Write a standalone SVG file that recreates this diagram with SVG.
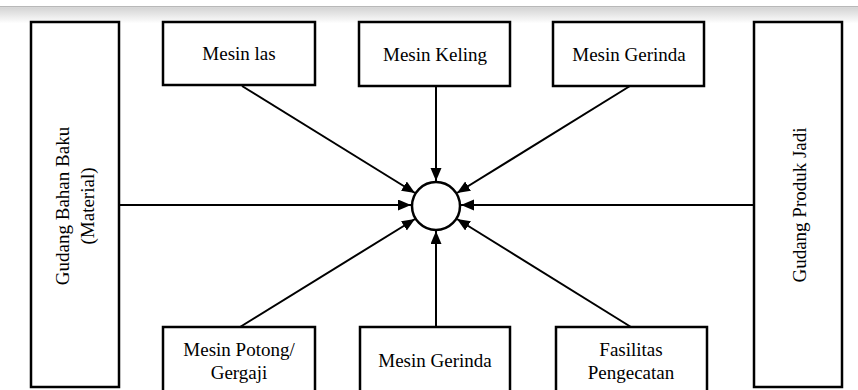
<svg xmlns="http://www.w3.org/2000/svg" width="858" height="390" viewBox="0 0 858 390">
<defs>
<linearGradient id="shade" x1="0" y1="0" x2="0" y2="1">
<stop offset="0" stop-color="#d4d4d4"/>
<stop offset="1" stop-color="#ffffff"/>
</linearGradient>
<marker id="arr" markerUnits="userSpaceOnUse" markerWidth="14" markerHeight="12" refX="13" refY="5.5" orient="auto">
<path d="M0,0 L13,5.5 L0,11 z" fill="#000"/>
</marker>
<style>
.box{fill:#fff;stroke:#000;stroke-width:2.5}
.lbl{font-family:"Liberation Serif","Times New Roman",serif;font-size:19px;fill:#000;text-anchor:middle}
.con{stroke:#000;stroke-width:2;fill:none;marker-end:url(#arr)}
</style>
</defs>
<rect x="0" y="0" width="858" height="390" fill="#fff"/>
<rect x="0" y="6" width="858" height="1.5" fill="#b8b8b8"/>
<rect x="0" y="7.5" width="858" height="16" fill="url(#shade)"/>

<g id="gudang-bahan-baku">
<rect class="box" x="31" y="22" width="88" height="365"/>
<text class="lbl" transform="translate(69,206) rotate(-90)">Gudang Bahan Baku</text>
<text class="lbl" transform="translate(94,206) rotate(-90)">(Material)</text>
</g>
<g id="gudang-produk-jadi">
<rect class="box" x="754" y="22" width="88" height="365"/>
<text class="lbl" transform="translate(806,205) rotate(-90)">Gudang Produk Jadi</text>
</g>
<g id="mesin-las">
<rect class="box" x="163" y="22" width="152" height="63"/>
<text class="lbl" x="239" y="60">Mesin las</text>
</g>
<g id="mesin-keling">
<rect class="box" x="359" y="22" width="151" height="64"/>
<text class="lbl" x="435" y="61">Mesin Keling</text>
</g>
<g id="mesin-gerinda-atas">
<rect class="box" x="553" y="22" width="151" height="64"/>
<text class="lbl" x="629" y="61">Mesin Gerinda</text>
</g>
<g id="mesin-potong">
<rect class="box" x="163" y="327" width="152" height="80"/>
<text class="lbl" x="239" y="356">Mesin Potong/</text>
<text class="lbl" x="239" y="379">Gergaji</text>
</g>
<g id="mesin-gerinda-bawah">
<rect class="box" x="360" y="327" width="150" height="80"/>
<text class="lbl" x="435" y="367">Mesin Gerinda</text>
</g>
<g id="fasilitas-pengecatan">
<rect class="box" x="556" y="327" width="151" height="80"/>
<text class="lbl" x="631" y="356">Fasilitas</text>
<text class="lbl" x="631" y="379">Pengecatan</text>
</g>
<g id="pusat">
<circle cx="436" cy="206" r="24" fill="#fff" stroke="#000" stroke-width="2.5"/>
</g>

<g id="connectors">
<line class="con" x1="242" y1="86" x2="415" y2="193"/>
<line class="con" x1="436" y1="87" x2="436" y2="181"/>
<line class="con" x1="630" y1="86" x2="457" y2="193"/>
<line class="con" x1="119" y1="205" x2="411" y2="205"/>
<line class="con" x1="754" y1="205" x2="461" y2="205"/>
<line class="con" x1="240" y1="327" x2="415" y2="219"/>
<line class="con" x1="436" y1="327" x2="436" y2="231"/>
<line class="con" x1="631" y1="327" x2="457" y2="219"/>
</g>
</svg>
